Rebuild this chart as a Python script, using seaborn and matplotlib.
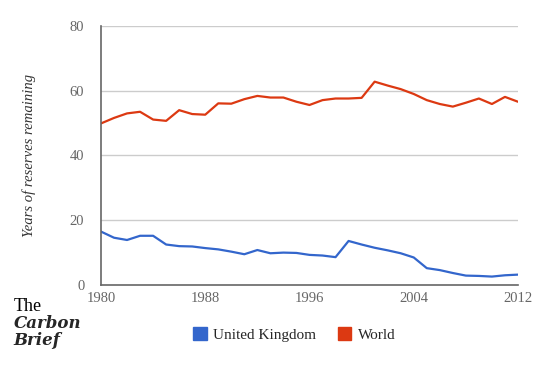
import numpy as np
import pandas as pd
import seaborn as sns
import matplotlib.pyplot as plt
from matplotlib.patches import Patch

# ---- Datos ----
years = list(range(1980, 2013))
uk = [16.5, 14.6, 13.9, 15.2, 15.2, 12.5, 12.0, 11.9, 11.4, 11.0, 10.3,
      9.5, 10.8, 9.8, 10.0, 9.9, 9.3, 9.1, 8.6, 13.6, 12.5, 11.5, 10.7,
      9.8, 8.5, 5.2, 4.6, 3.7, 2.9, 2.8, 2.6, 3.0, 3.2]
world = [49.9, 51.6, 53.0, 53.5, 51.1, 50.7, 54.0, 52.8, 52.6, 56.1, 56.0,
         57.4, 58.4, 57.9, 57.9, 56.6, 55.6, 57.1, 57.6, 57.6, 57.8, 62.8,
         61.6, 60.5, 59.0, 57.1, 55.9, 55.1, 56.3, 57.6, 55.9, 58.1, 56.6]
series = ['United Kingdom', 'World']
colores = ['#3366CC', '#DC3912']
xticks = [1980, 1988, 1996, 2004, 2012]
yticks = [0, 20, 40, 60, 80]

df = pd.DataFrame({'Year': years * 2,
                   'Years': uk + world,
                   'Series': ['United Kingdom'] * len(years) + ['World'] * len(years)})

sns.set_style('white')
plt.rcParams['font.family'] = ['Liberation Serif', 'DejaVu Serif']

fig = plt.figure(figsize=(5.5, 3.65), dpi=100)
ax = fig.add_axes([0.1836, 0.2192, 0.7582, 0.7096])

sns.lineplot(data=df, x='Year', y='Years', hue='Series', palette=colores,
             linewidth=1.6, legend=False, ax=ax)

ax.set_xlim(1980, 2012)
ax.set_ylim(0, 80)
ax.set_xticks(xticks)
ax.set_yticks(yticks)
ax.tick_params(axis='both', length=0, labelsize=10.5, labelcolor='#666666')
ax.tick_params(axis='y', pad=12)
ax.tick_params(axis='x', pad=5)
for v in yticks[1:]:
    ax.axhline(v, color='#cccccc', lw=1, zorder=0)
for s in ['top', 'right']:
    ax.spines[s].set_visible(False)
for s in ['left', 'bottom']:
    ax.spines[s].set_color('#666666')
    ax.spines[s].set_linewidth(1.2)
ax.set_xlabel('')
ax.set_ylabel('Years of reserves remaining', fontsize=10.5, style='italic',
              color='#333333', labelpad=24)

# Leyenda
handles = [Patch(facecolor=c, edgecolor=c) for c in colores]
fig.legend(handles, series, loc='center', bbox_to_anchor=(0.535, 0.083),
           ncol=2, frameon=False, fontsize=11, handlelength=0.9,
           handleheight=0.9, columnspacing=1.4, handletextpad=0.4)

# Logo
fig.text(0.025, 0.148, 'The', fontsize=13, color='black')
fig.text(0.025, 0.100, 'Carbon', fontsize=12, weight='bold', style='italic',
         family='DejaVu Serif')
fig.text(0.025, 0.056, 'Brief', fontsize=12, weight='bold', style='italic',
         family='DejaVu Serif')

plt.savefig('out.png', dpi=100)
